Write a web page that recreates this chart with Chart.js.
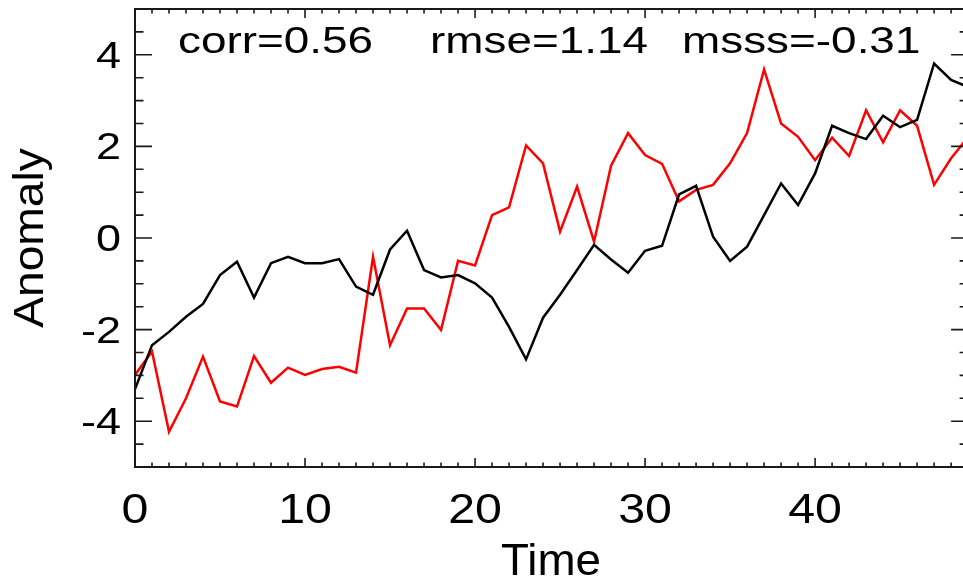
<!DOCTYPE html>
<html>
<head>
<meta charset="utf-8">
<title>Anomaly time series</title>
<script src="https://cdn.jsdelivr.net/npm/chart.js@4"></script>
<style>
    html, body { margin: 0; padding: 0; background: #fff; }
    #wrap { width: 963px; height: 580px; position: relative; }
</style>
</head>
<body>
<div id="wrap"><canvas id="anomalyChart" width="963" height="580"></canvas></div>
<script>
// Time steps and the two anomaly series
const timeSteps = [0, 1, 2, 3, 4, 5, 6, 7, 8, 9, 10, 11, 12, 13, 14, 15, 16, 17, 18, 19,
    20, 21, 22, 23, 24, 25, 26, 27, 28, 29, 30, 31, 32, 33, 34, 35, 36, 37, 38, 39,
    40, 41, 42, 43, 44, 45, 46, 47, 48, 49];

const observed = [-3.30, -2.34, -2.05, -1.72, -1.44, -0.81, -0.52, -1.30, -0.55, -0.41,
    -0.55, -0.55, -0.46, -1.06, -1.24, -0.25, 0.16, -0.70, -0.86, -0.81,
    -0.99, -1.30, -1.94, -2.65, -1.74, -1.24, -0.70, -0.15, -0.47, -0.76,
    -0.28, -0.17, 0.95, 1.14, 0.03, -0.50, -0.19, 0.50, 1.19, 0.72,
    1.41, 2.45, 2.29, 2.16, 2.67, 2.42, 2.58, 3.81, 3.45, 3.30];

const forecast = [-2.99, -2.48, -4.23, -3.50, -2.59, -3.57, -3.68, -2.58, -3.16, -2.83,
    -2.99, -2.86, -2.81, -2.94, -0.41, -2.34, -1.54, -1.54, -2.01, -0.50,
    -0.60, 0.50, 0.67, 2.02, 1.63, 0.14, 1.12, -0.08, 1.58, 2.29,
    1.81, 1.62, 0.80, 1.05, 1.16, 1.63, 2.29, 3.68, 2.50, 2.21,
    1.70, 2.19, 1.79, 2.79, 2.09, 2.79, 2.45, 1.16, 1.74, 2.20];

// Axis ticks
const xMajorTicks = [0, 10, 20, 30, 40];
const yMajorTicks = [-4, -2, 0, 2, 4];

// Skill scores printed along the top
const scoreLabels = ['corr=0.56', 'rmse=1.14', 'msss=-0.31'];

const FONT = '"Liberation Sans", Arial, Helvetica, sans-serif';

document.addEventListener('DOMContentLoaded', function() {
    createAnomalyChart();
});

/**
 * Draw stretched text (wide Helvetica look)
 */
function drawText(ctx, text, x, y, size, stretch, align, angle) {
    ctx.save();
    ctx.translate(x, y);
    if (angle) ctx.rotate(angle);
    ctx.scale(stretch, 1);
    ctx.font = size + 'px ' + FONT;
    ctx.fillStyle = '#000';
    ctx.textAlign = align;
    ctx.textBaseline = 'alphabetic';
    ctx.fillText(text, 0, 0);
    ctx.restore();
}

/**
 * Box frame, inward ticks on all four sides, labels and scores
 */
const framePlugin = {
    id: 'idlFrame',
    beforeDraw: function(chart) {
        const ctx = chart.ctx;
        ctx.save();
        ctx.fillStyle = '#fff';
        ctx.fillRect(0, 0, chart.width, chart.height);
        ctx.restore();
    },
    afterDraw: function(chart) {
        const ctx = chart.ctx;
        const xs = chart.scales.x;
        const ys = chart.scales.y;
        const left = xs.getPixelForValue(0);
        const right = xs.getPixelForValue(49);
        const top = ys.getPixelForValue(5);
        const bottom = ys.getPixelForValue(-5);

        ctx.save();
        ctx.strokeStyle = '#1a1a1a';
        ctx.lineWidth = 2;

        // frame
        ctx.beginPath();
        ctx.moveTo(left, top);
        ctx.lineTo(right, top);
        ctx.lineTo(right, bottom);
        ctx.lineTo(left, bottom);
        ctx.closePath();
        ctx.stroke();

        ctx.lineWidth = 1.6;
        ctx.beginPath();
        // x ticks, every unit, major every 10
        for (let t = 0; t <= 49; t++) {
            const px = xs.getPixelForValue(t);
            const len = (t % 10 === 0) ? 9 : 4.5;
            ctx.moveTo(px, bottom);
            ctx.lineTo(px, bottom - len);
            ctx.moveTo(px, top);
            ctx.lineTo(px, top + len);
        }
        // y ticks, every 0.5, major every 2
        for (let v = -5; v <= 5; v += 0.5) {
            const py = ys.getPixelForValue(v);
            const len = (v % 2 === 0) ? 17 : 8.5;
            ctx.moveTo(left, py);
            ctx.lineTo(left + len, py);
            ctx.moveTo(right, py);
            ctx.lineTo(right - len, py);
        }
        ctx.stroke();
        ctx.restore();

        // tick labels
        xMajorTicks.forEach(function(t) {
            drawText(ctx, String(t), xs.getPixelForValue(t), 523, 42, 1.15, 'center');
        });
        yMajorTicks.forEach(function(v) {
            drawText(ctx, String(v), 121, ys.getPixelForValue(v) + 13, 36, 1.25, 'right');
        });

        // axis titles
        drawText(ctx, 'Time', 551, 575, 44, 1.04, 'center');
        drawText(ctx, 'Anomaly', 43, ys.getPixelForValue(0), 42, 1.1, 'center', -Math.PI / 2);

        // scores
        const scoreX = [178, 430, 682];
        scoreLabels.forEach(function(s, i) {
            drawText(ctx, s, scoreX[i], 53, 37, 1.24, 'left');
        });
    }
};

/**
 * Create observed vs forecast anomaly chart
 */
function createAnomalyChart() {
    const ctx = document.getElementById('anomalyChart');

    if (!ctx) return;

    const anomalyChart = new Chart(ctx, {
        type: 'line',
        data: {
            labels: timeSteps,
            datasets: [{
                label: 'Observed',
                data: timeSteps.map(function(t, i) { return { x: t, y: observed[i] }; }),
                borderColor: '#000000',
                borderWidth: 2.5,
                pointRadius: 0,
                tension: 0,
                fill: false
            }, {
                label: 'Forecast',
                data: timeSteps.map(function(t, i) { return { x: t, y: forecast[i] }; }),
                borderColor: '#ff0000',
                borderWidth: 2.5,
                pointRadius: 0,
                tension: 0,
                fill: false
            }]
        },
        options: {
            responsive: false,
            animation: false,
            events: [],
            layout: {
                padding: { left: 135, top: 9, right: 0, bottom: 113 }
            },
            plugins: {
                legend: { display: false },
                tooltip: { enabled: false }
            },
            scales: {
                x: {
                    type: 'linear',
                    display: false,
                    min: 0,
                    max: 48.7
                },
                y: {
                    type: 'linear',
                    display: false,
                    min: -5,
                    max: 5
                }
            }
        },
        plugins: [framePlugin]
    });
}
</script>
</body>
</html>
